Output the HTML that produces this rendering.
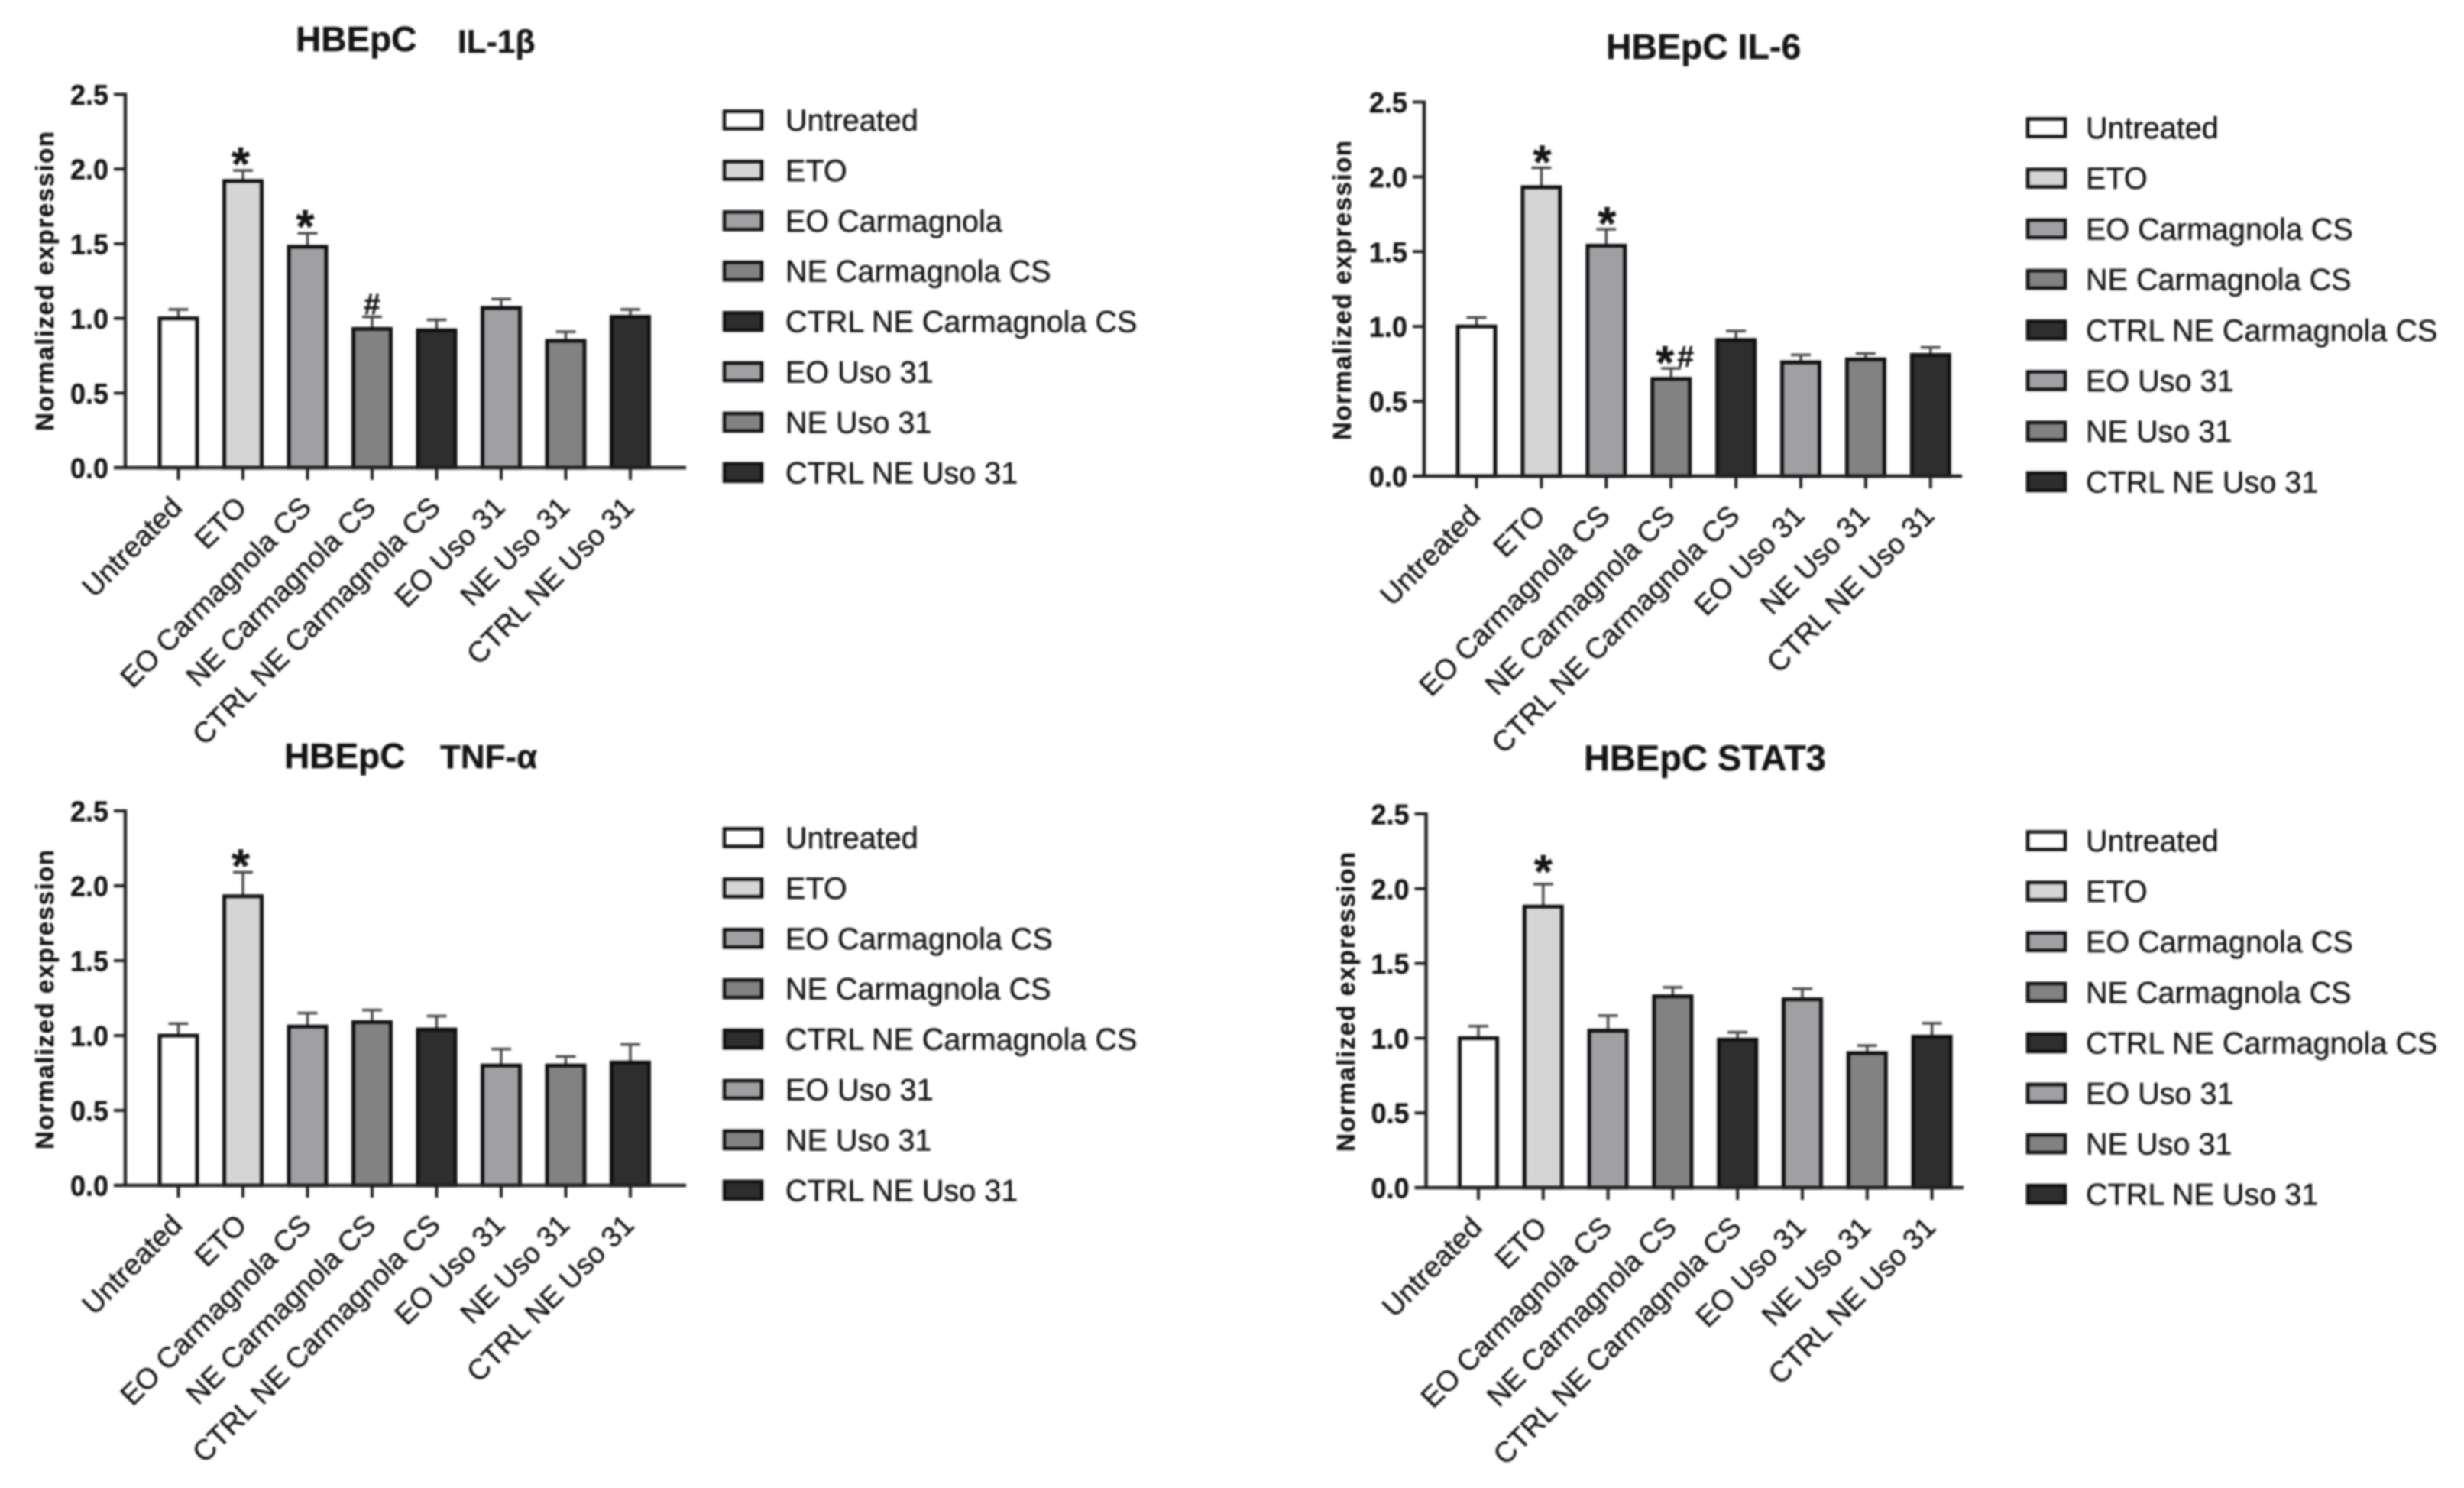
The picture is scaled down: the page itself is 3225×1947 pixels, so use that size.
<!DOCTYPE html>
<html lang="en">
<head>
<meta charset="utf-8">
<title>HBEpC normalized expression bar charts</title>
<style>
html,body{margin:0;padding:0;background:#fff;width:3225px;height:1947px;overflow:hidden}
svg{display:block;filter:blur(1.3px)}
text{font-family:"Liberation Sans",sans-serif;fill:#141414;stroke:#141414;stroke-width:.4px}
</style>
</head>
<body>
<svg id="figure" xmlns="http://www.w3.org/2000/svg" width="3225" height="1947" viewBox="0 0 3225 1947"></svg>
<script>
const categories = ["Untreated","ETO","EO Carmagnola CS","NE Carmagnola CS","CTRL NE Carmagnola CS","EO Uso 31","NE Uso 31","CTRL NE Uso 31"];
const legendLabelsIl1b = ["Untreated","ETO","EO Carmagnola","NE Carmagnola CS","CTRL NE Carmagnola CS","EO Uso 31","NE Uso 31","CTRL NE Uso 31"];
const yTickValues = [0,0.5,1,1.5,2,2.5];
const yTickLabels = ["0.0","0.5","1.0","1.5","2.0","2.5"];

const il1bValues = [1.00,1.92,1.48,0.93,0.92,1.07,0.85,1.01];
const il1bErrors = [0.06,0.07,0.09,0.08,0.07,0.06,0.06,0.05];
const il1bMarks  = ["","*","*","#","","","",""];

const il6Values = [1.00,1.93,1.54,0.65,0.91,0.76,0.78,0.81];
const il6Errors = [0.06,0.13,0.11,0.07,0.06,0.05,0.04,0.05];
const il6Marks  = ["","*","*","*#","","","",""];

const tnfValues = [1.00,1.93,1.06,1.09,1.04,0.80,0.80,0.82];
const tnfErrors = [0.08,0.16,0.09,0.08,0.09,0.11,0.06,0.12];
const tnfMarks  = ["","*","","","","","",""];

const stat3Values = [1.00,1.88,1.05,1.28,0.99,1.26,0.90,1.01];
const stat3Errors = [0.08,0.15,0.10,0.06,0.05,0.07,0.05,0.09];
const stat3Marks  = ["","*","","","","","",""];

const barFills = ["#ffffff","#d5d5d5","#a0a0a4","#828282","#2e2e2e","#a0a0a4","#828282","#2e2e2e"];

const panels = [
  {id:"il-1b", values:il1bValues, errors:il1bErrors, marks:il1bMarks, legend:legendLabelsIl1b,
   left:164, right:898, top:123.5, bottom:612, first:233.5, step:84.5, markGap:20, markShift:-3,
   titleParts:[["HBEpC",387,67,46],["IL-1β",599,69,42.5]],
   yTitleX:70, yTitleY:368, legendX:946, legendTextX:1028, legendY:157, legendStep:65.9},
  {id:"il-6", values:il6Values, errors:il6Errors, marks:il6Marks, legend:categories,
   left:1864, right:2568, top:133.5, bottom:623, first:1932.5, step:84.9, markGap:19, markShift:1,
   titleParts:[["HBEpC IL-6",2102,77,46.4]],
   yTitleX:1768, yTitleY:380, legendX:2652, legendTextX:2730, legendY:167, legendStep:66.2},
  {id:"tnf-a", values:tnfValues, errors:tnfErrors, marks:tnfMarks, legend:categories,
   left:164, right:898, top:1061, bottom:1551, first:233.5, step:84.5, markGap:20, markShift:-3,
   titleParts:[["HBEpC",372,1005,46],["TNF-α",576,1005,44]],
   yTitleX:70, yTitleY:1308, legendX:946, legendTextX:1028, legendY:1096, legendStep:65.9},
  {id:"stat3", values:stat3Values, errors:stat3Errors, marks:stat3Marks, legend:categories,
   left:1866.5, right:2570, top:1065, bottom:1554, first:1935, step:84.8, markGap:28, markShift:0,
   titleParts:[["HBEpC STAT3",2073,1008,47]],
   yTitleX:1773, yTitleY:1311, legendX:2652, legendTextX:2730, legendY:1100, legendStep:66.1}
];

const SVG_NS = "http://www.w3.org/2000/svg";
const figure = document.getElementById("figure");

function make(tag, parent) {
  const el = document.createElementNS(SVG_NS, tag);
  parent.appendChild(el);
  return el;
}
function setAll(el, props) {
  Object.keys(props).forEach(function (k) { el.setAttribute(k, props[k]); });
}

panels.forEach(function (p) {
  const yScale = function (v) { return p.bottom - (v / 2.5) * (p.bottom - p.top); };
  const xScale = function (i) { return p.first + i * p.step; };

  const g = make("g", figure);
  
  

  p.titleParts.forEach(function (t) {
    const title = make("text", g);
    
    
    setAll(title, {x:t[1], y:t[2], "font-size":t[3], "font-weight":"bold"});
    title.textContent = t[0];
  });

  const yTitle = make("text", g);
  
  
  setAll(yTitle, {x:0, y:0, "font-size":33, "font-weight":"bold", "text-anchor":"middle",
    textLength:392, transform:"translate(" + p.yTitleX + " " + p.yTitleY + ") rotate(-90)"});
  yTitle.textContent = "Normalized expression";

  p.values.forEach(function (v, i) {
    const cx = xScale(i);
    const top = yScale(v);
    const errTop = yScale(v + p.errors[i]);

    const errLine = make("line", g);
    
    
    setAll(errLine, {x1:cx, x2:cx, y1:top, y2:errTop, stroke:"#4a4a4a", "stroke-width":3.5});

    const errCap = make("line", g);
    
    
    setAll(errCap, {x1:cx - 13, x2:cx + 13, y1:errTop, y2:errTop, stroke:"#4a4a4a", "stroke-width":3.5});

    const bar = make("rect", g);
    
    
    setAll(bar, {x:cx - 24.5, y:top, width:49, height:p.bottom - top, fill:barFills[i], stroke:"#111", "stroke-width":5});

    const tick = make("line", g);
    
    
    setAll(tick, {x1:cx, x2:cx, y1:p.bottom, y2:p.bottom + 16, stroke:"#222", "stroke-width":4});

    const label = make("text", g);
    
    
    setAll(label, {x:0, y:0, "font-size":37.8, "text-anchor":"end",
      transform:"translate(" + (cx + 7) + " " + (p.bottom + 54) + ") rotate(-45)"});
    label.textContent = categories[i];

    const sym = p.marks[i];
    if (sym.indexOf("*") >= 0) {
      const star = make("text", g);
      
      
      setAll(star, {x:sym.length > 1 ? cx - 8 : cx + p.markShift, y:errTop - p.markGap + 33, "font-size":62, "font-weight":"bold", "text-anchor":"middle"});
      star.textContent = "*";
    }
    if (sym.indexOf("#") >= 0) {
      const hash = make("text", g);
      
      
      setAll(hash, {x:sym.length > 1 ? cx + 19 : cx, y:errTop - p.markGap + 17, "font-size":39, "font-weight":"bold", "text-anchor":"middle", "stroke-width":1.2});
      hash.textContent = "#";
    }
  });

  const yAxis = make("line", g);
  
  
  setAll(yAxis, {x1:p.left, x2:p.left, y1:p.top - 2, y2:p.bottom + 2, stroke:"#222", "stroke-width":4.5});

  const xAxis = make("line", g);
  
  
  setAll(xAxis, {x1:p.left - 15, x2:p.right, y1:p.bottom, y2:p.bottom, stroke:"#222", "stroke-width":4.5});

  yTickValues.forEach(function (v, i) {
    const y = yScale(v);
    const tick = make("line", g);
    
    
    setAll(tick, {x1:p.left - 15, x2:p.left, y1:y, y2:y, stroke:"#222", "stroke-width":4});

    const label = make("text", g);
    
    
    setAll(label, {x:p.left - 22, y:y + 13.5, "font-size":37, "font-weight":"bold", "text-anchor":"end",
      textLength:50, lengthAdjust:"spacingAndGlyphs"});
    label.textContent = yTickLabels[i];
  });

  p.legend.forEach(function (name, i) {
    const cy = p.legendY + i * p.legendStep;
    const swatch = make("rect", g);
    
    
    setAll(swatch, {x:p.legendX + 2, y:cy - 11.5, width:49, height:23, fill:barFills[i], stroke:"#111", "stroke-width":4.5});

    const text = make("text", g);
    
    
    setAll(text, {x:p.legendTextX, y:cy + 14, "font-size":39.6});
    text.textContent = name;
  });
});
</script>
</body>
</html>
